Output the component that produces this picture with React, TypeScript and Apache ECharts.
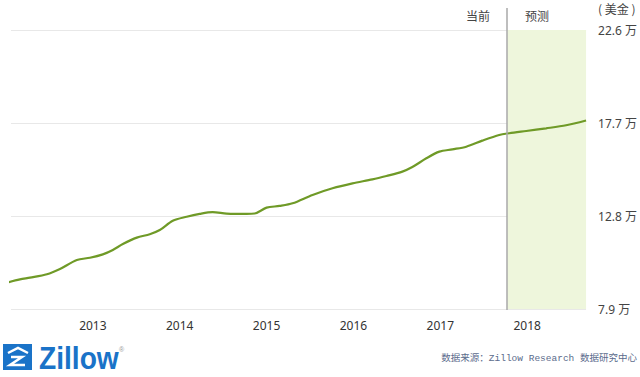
import React, { useEffect, useRef } from "react";
import * as echarts from "echarts";

// decimal year positions of traced points, and home values (万 美金)
const years = [
  2011.931, 2012.161, 2012.276, 2012.471, 2012.621, 2012.816, 2012.966,
  2013.115, 2013.23, 2013.345, 2013.506, 2013.655, 2013.77, 2013.92,
  2014.08, 2014.23, 2014.379, 2014.54, 2014.77, 2014.862, 2015.0,
  2015.149, 2015.299, 2015.529, 2015.759, 2015.989, 2016.218, 2016.379,
  2016.563, 2016.678, 2016.839, 2016.989, 2017.138, 2017.299, 2017.483,
  2017.678, 2017.793, 2017.989, 2018.218, 2018.448, 2018.678,
];
const values = [
  9.2, 9.46, 9.55, 9.73, 10.01, 10.48, 10.6,
  10.78, 11.01, 11.32, 11.66, 11.84, 12.06, 12.55,
  12.76, 12.91, 13.0, 12.93, 12.91, 12.93, 13.24,
  13.33, 13.47, 13.91, 14.26, 14.52, 14.73, 14.91,
  15.14, 15.38, 15.84, 16.19, 16.31, 16.45, 16.77,
  17.07, 17.16, 17.28, 17.42, 17.58, 17.83,
];
const yTicks = [7.9, 12.8, 17.7, 22.6];
const xMin = 2012.0575;
const xMax = 2018.678;
const forecastStart = 2017.77;
const unitLabel = "( 美金 )";
const nowLabel = "当前";
const forecastLabel = "预测";
const sourceText = "数据来源：Zillow Research 数据研究中心";

export default function App() {
  const ref = useRef<HTMLDivElement>(null);
  useEffect(() => {
    const chart = echarts.init(ref.current!, null, { renderer: "svg" });
    const data = years.map((y, i) => [y, values[i]]);
    const blue = "#1a73c8";
    chart.setOption({
      animation: false,
      backgroundColor: "#ffffff",
      grid: { left: 11, top: 30, width: 576, height: 279, containLabel: false },
      xAxis: {
        type: "value",
        min: xMin,
        max: xMax,
        minInterval: 1,
        maxInterval: 1,
        axisLine: { show: false },
        axisTick: { show: false },
        splitLine: { show: false },
        axisLabel: {
          showMinLabel: false,
          showMaxLabel: false,
          margin: 10,
          color: "#333",
          fontSize: 12,
          fontFamily: "Noto Sans",
          formatter: (v: number) => String(Math.round(v)),
        },
      },
      yAxis: {
        type: "value",
        position: "right",
        min: yTicks[0],
        max: yTicks[yTicks.length - 1],
        interval: 4.9,
        axisLine: { show: false },
        axisTick: { show: false },
        splitLine: { lineStyle: { color: "#e8e8e8", width: 1 } },
        axisLabel: {
          margin: 12,
          color: "#444",
          fontSize: 12,
          fontFamily: "Noto Sans, Noto Sans CJK SC",
          formatter: (v: number) => v.toFixed(1) + " 万",
        },
      },
      series: [
        {
          type: "line",
          data,
          clip: false,
          smooth: 0.3,
          symbol: "none",
          lineStyle: { color: "#6f9a27", width: 2.2 },
          markArea: {
            silent: true,
            itemStyle: { color: "#eef6dc" },
            data: [[{ xAxis: forecastStart }, { xAxis: xMax }]],
          },
          markLine: {
            silent: true,
            symbol: "none",
            label: { show: false },
            lineStyle: { color: "#a8a8a8", width: 1.5, type: "solid" },
            data: [[{ xAxis: forecastStart, y: 8 }, { xAxis: forecastStart, y: 310 }]],
          },
        },
      ],
      graphic: [
        {
          type: "text",
          left: 598,
          top: 2,
          style: { text: unitLabel, fill: "#444", fontSize: 12, fontFamily: "Noto Sans CJK SC" },
        },
        {
          type: "text",
          x: 490,
          y: 15,
          style: { text: nowLabel, fill: "#444", fontSize: 12, fontFamily: "Noto Sans CJK SC", align: "right", verticalAlign: "middle" },
        },
        {
          type: "text",
          x: 525,
          y: 15,
          style: { text: forecastLabel, fill: "#444", fontSize: 12, fontFamily: "Noto Sans CJK SC", align: "left", verticalAlign: "middle" },
        },
        { type: "rect", shape: { x: 3, y: 344, width: 29, height: 26 }, style: { fill: blue } },
        {
          type: "polyline",
          shape: { points: [[8, 353], [18, 348], [28, 353]] },
          style: { stroke: "#fff", lineWidth: 2.5, fill: "none" },
        },
        {
          type: "polyline",
          shape: { points: [[11, 357], [22, 357], [10, 365], [25, 365]] },
          style: { stroke: "#fff", lineWidth: 2.5, fill: "none" },
        },
        {
          type: "text",
          x: 39,
          y: 358,
          scaleX: 0.88,
          style: {
            text: "Zillow",
            fill: blue,
            fontSize: 32,
            fontWeight: "bold",
            fontFamily: "Liberation Sans",
            verticalAlign: "middle",
          },
        },
        {
          type: "text",
          x: 119,
          y: 346,
          style: { text: "®", fill: "#999", fontSize: 7, fontFamily: "Liberation Sans" },
        },
        {
          type: "text",
          x: 637,
          y: 358,
          style: {
            text: sourceText,
            fill: "#5b6b8c",
            fontSize: 9.5,
            fontFamily: "Liberation Mono, Noto Sans CJK SC",
            align: "right",
            verticalAlign: "middle",
          },
        },
      ],
    });
    return () => chart.dispose();
  }, []);
  return (
    <div
      ref={ref}
      style={{ position: "fixed", left: 0, top: 0, width: 640, height: 377 }}
    />
  );
}
